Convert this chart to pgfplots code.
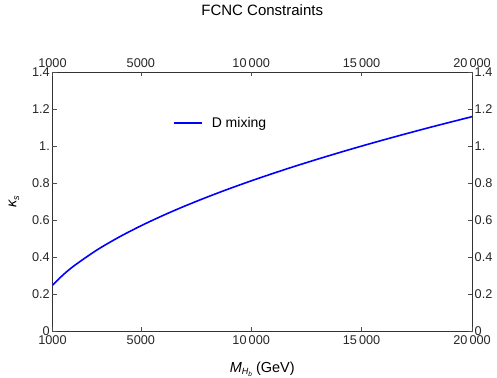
\documentclass[border=0pt]{standalone}
\usepackage{pgfplots}
\pgfplotsset{compat=1.18}
\usepackage{fontspec}
\setmainfont{Liberation Sans}
\newcommand{\tsp}{\,}
\begin{document}
\begin{tikzpicture}[x=1pt,y=1pt]
\path[use as bounding box] (-52.5,-45.5) rectangle (444.5,331.5);
\pgfplotsset{every axis/.append style={
  scale only axis, width=419.5pt, height=259.5pt,
  xmin=1000, xmax=20000, ymin=0, ymax=1.4,
  scaled x ticks=false, scaled y ticks=false,
  xtick={1000,5000,10000,15000,20000},
  ytick={0,0.2,0.4,0.6,0.8,1,1.2,1.4},
  xticklabels={1000,5000,10\tsp000,15\tsp000,20\tsp000},
  yticklabels={0,0.2,0.4,0.6,0.8,1.,1.2,1.4},
  tick align=inside, major tick length=4pt, minor tick num=0,
  tick style={black!70, line width=0.5pt},
  axis line style={black!80, line width=0.6pt},
  tick label style={font=\fontsize{12.7}{14}\selectfont, text=black!85},
  xticklabel style={inner sep=4pt},
  yticklabel style={inner sep=2.5pt},
  at={(0,0)}, anchor=south west,
}}
\begin{axis}[
  xticklabel pos=left, yticklabel pos=left,
  xlabel={\textit{M}\raisebox{-0.35ex}{\fontsize{9}{10}\selectfont\textit{H}\raisebox{-0.3ex}{\fontsize{6.5}{7}\selectfont\textit{b}}} (GeV)},
  ylabel={\textit{κ}\raisebox{-0.35ex}{\fontsize{9}{10}\selectfont\textit{s}}},
  xlabel style={font=\fontsize{14.5}{16}\selectfont, at={(axis description cs:0.5,-0.145)}, anchor=center},
  ylabel style={font=\fontsize{14.5}{16}\selectfont, at={(axis description cs:-0.092,0.5)}, anchor=center},
  title={FCNC Constraints},
  title style={font=\fontsize{15}{17}\selectfont, at={(axis description cs:0.5,1.216)}, anchor=center},
  legend style={draw=none, fill=none, at={(0.28,0.803)}, anchor=west, font=\fontsize{14}{16}\selectfont,
    /tikz/every odd column/.append style={column sep=7pt}},
  legend cell align=left,
  legend image code/.code={\draw[#1, line width=1.6pt] (0pt,0pt) -- (28pt,0pt);},
]
\addplot[color={rgb,255:red,0;green,0;blue,255}, line width=1.6pt, smooth] coordinates {
(1000,0.2500) (1500,0.3077) (2000,0.3565) (3000,0.4388) (4000,0.5084)
(5000,0.5699) (6000,0.6257) (7000,0.6771) (8000,0.7250) (9000,0.7701)
(10000,0.8127) (11000,0.8534) (12000,0.8923) (13000,0.9295) (14000,0.9655)
(15000,1.0003) (16000,1.0339) (17000,1.0664) (18000,1.0982) (19000,1.1289)
(20000,1.1590)};
\addlegendentry{D mixing}
\end{axis}
\begin{axis}[
  xticklabel pos=right, yticklabel pos=right,
  axis line style={draw=none},
]
\addplot[draw=none] coordinates {(1000,0) (20000,1.4)};
\end{axis}
\end{tikzpicture}
\end{document}
